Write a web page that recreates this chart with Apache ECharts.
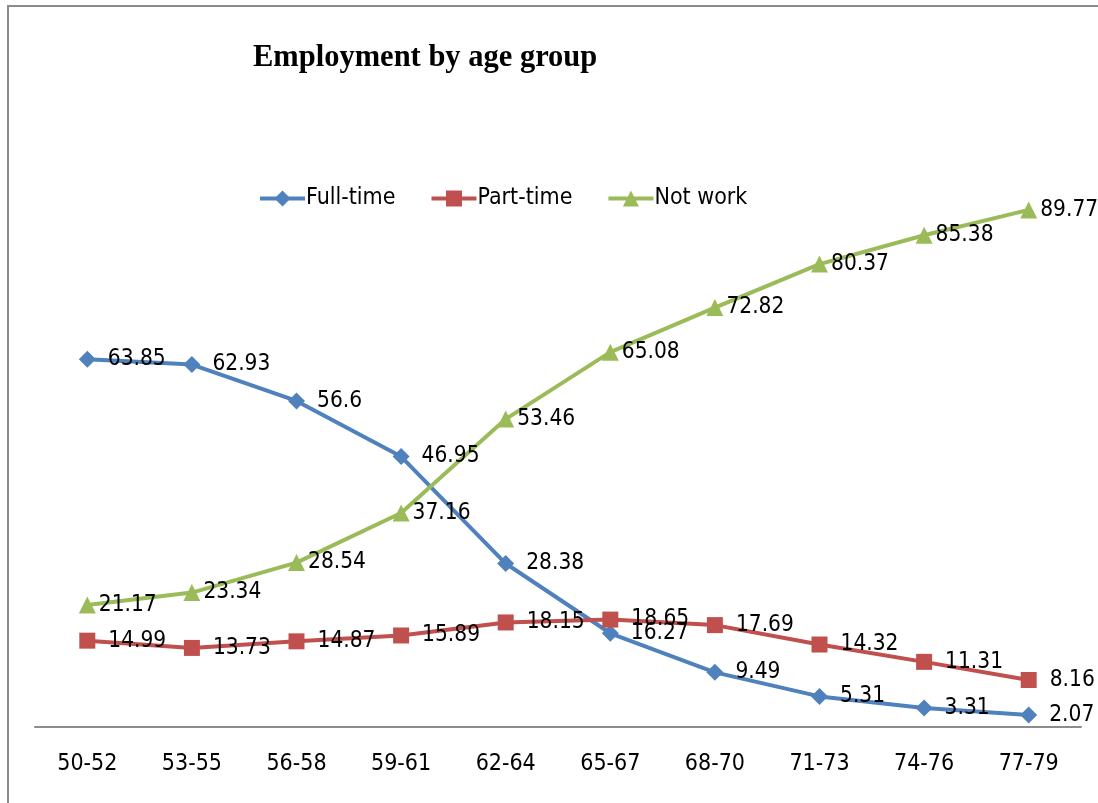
<!DOCTYPE html>
<html>
<head>
<meta charset="utf-8">
<script src="https://cdn.jsdelivr.net/npm/echarts@6/dist/echarts.min.js"></script>
<style>html,body{margin:0;padding:0;background:#fff;}#c{width:1098px;height:803px;}</style>
</head>
<body>
<div id="c"></div>
<script>
const categories = ['50-52','53-55','56-58','59-61','62-64','65-67','68-70','71-73','74-76','77-79'];
const fullTime = [63.85, 62.93, 56.6, 46.95, 28.38, 16.27, 9.49, 5.31, 3.31, 2.07];
const partTime = [14.99, 13.73, 14.87, 15.89, 18.15, 18.65, 17.69, 14.32, 11.31, 8.16];
const notWork = [21.17, 23.34, 28.54, 37.16, 53.46, 65.08, 72.82, 80.37, 85.38, 89.77];

const FONT = '"Liberation Sans Narrow", "DejaVu Sans Condensed", "Arial Narrow", sans-serif';
const chart = echarts.init(document.getElementById('c'));
function mk(name, data, color, symbol, size, dist) {
  return {
    name, type: 'line', data, symbol, symbolSize: size,
    lineStyle: { color, width: 4 },
    itemStyle: { color },
    label: { show: true, position: 'right', distance: dist, color: '#000', fontFamily: FONT, fontSize: 22.5 },
    z: 3
  };
}
chart.setOption({
  animation: false,
  title: {
    text: 'Employment by age group', left: 253, top: 43, padding: 0,
    textStyle: { fontFamily: '"Liberation Serif", "DejaVu Serif", serif', fontWeight: 'bold', fontSize: 30.5, color: '#000' }
  },
  legend: {
    left: 253, top: 182, itemWidth: 45, itemHeight: 20, itemGap: 34,
    lineStyle: { width: 4 },
    textStyle: { fontFamily: FONT, fontSize: 23, color: '#000', padding: [0,0,0,-4] },
    data: ['Full-time', 'Part-time', 'Not work']
  },
  grid: { left: 35, right: 17, top: 151, bottom: 76 },
  xAxis: {
    type: 'category', data: categories, boundaryGap: true,
    axisLine: { lineStyle: { color: '#8c8c8c', width: 2 } },
    axisTick: { show: false },
    axisLabel: { margin: 26, color: '#000', fontFamily: FONT, fontSize: 23 }
  },
  yAxis: { type: 'value', min: 0, max: 100, show: false, splitLine: { show: false } },
  graphic: [{
    type: 'rect', shape: { x: 8, y: 6, width: 1300, height: 1000 },
    style: { fill: 'none', stroke: '#8c8c8c', lineWidth: 2 }, silent: true, z: -1
  }],
  series: [
    mk('Full-time', fullTime, '#4F81BD', 'diamond', 17, 12),
    mk('Part-time', partTime, '#C0504D', 'rect', 16, 13),
    mk('Not work', notWork, '#9BBB59', 'triangle', 17, 3)
  ]
});
</script>
</body>
</html>
